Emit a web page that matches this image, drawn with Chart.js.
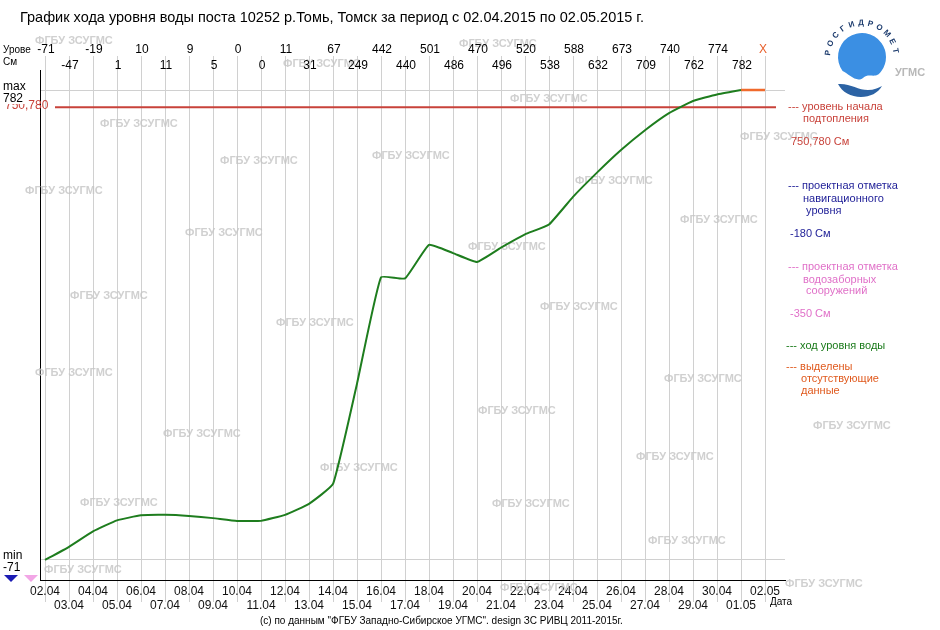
<!DOCTYPE html>
<html lang="ru">
<head>
<meta charset="utf-8">
<title>График хода уровня воды</title>
<script src="https://cdn.jsdelivr.net/npm/chart.js@4.4.1/dist/chart.umd.min.js"></script>
<style>
  html, body { margin: 0; padding: 0; background: #fff; }
  #wrap { width: 940px; height: 630px; }
</style>
</head>
<body>
<div id="wrap"><canvas id="levelChart" width="940" height="630"></canvas></div>
<script>
const titleText = 'График хода уровня воды поста 10252 р.Томь, Томск за период с 02.04.2015 по 02.05.2015 г.';

const dates = [
  '02.04', '03.04', '04.04', '05.04', '06.04', '07.04', '08.04', '09.04', '10.04', '11.04',
  '12.04', '13.04', '14.04', '15.04', '16.04', '17.04', '18.04', '19.04', '20.04', '21.04',
  '22.04', '23.04', '24.04', '25.04', '26.04', '27.04', '28.04', '29.04', '30.04', '01.05', '02.05',
];

// water level, cm (02.05 is missing -> shown as X)
const levels = [
  -71, -47, -19, 1, 10, 11, 9, 5, 0, 0,
  11, 31, 67, 249, 442, 440, 501, 486, 470, 496,
  520, 538, 588, 632, 673, 709, 740, 762, 774, 782,
];
const missingMark = 'X';

const minLevel = -71;
const maxLevel = 782;
const floodLevel = 750.78;
const navLevel = -180;
const intakeLevel = -350;

const watermarks = [
  [35, 41], [459, 44], [283, 64], [510, 99], [100, 124], [740, 137], [220, 161],
  [372, 156], [25, 191], [575, 181], [680, 220], [185, 233], [468, 247], [70, 296],
  [540, 307], [276, 323], [35, 373], [664, 379], [478, 411], [163, 434], [813, 426],
  [636, 457], [320, 468], [80, 503], [492, 504], [648, 541], [44, 570], [785, 584],
  [500, 588],
];

const levelPoints = levels.map((v, i) => ({ x: i, y: v }));
const lastIdx = levels.length - 1;
const missingPoints = [
  { x: lastIdx, y: levels[lastIdx] },
  { x: dates.length - 1, y: levels[lastIdx] },
];

const FONT = '"Liberation Sans", Arial, sans-serif';
Chart.defaults.font.family = FONT;

function drawLogo(ctx) {
  const cx = 862, cy = 57;
  ctx.save();
  // dome
  ctx.fillStyle = '#3b8fe3';
  ctx.beginPath();
  ctx.arc(cx, cy, 24, Math.PI * 0.8, Math.PI * 2.2);
  ctx.bezierCurveTo(876, 80, 869, 72, 863, 78);
  ctx.bezierCurveTo(856, 83, 849, 74, cx - 24 * Math.cos(Math.PI * 0.2), cy + 24 * Math.sin(Math.PI * 0.2));
  ctx.fill();
  // wave
  ctx.fillStyle = '#2c63a4';
  ctx.beginPath();
  ctx.moveTo(838, 84);
  ctx.bezierCurveTo(850, 83, 858, 90, 868, 90);
  ctx.bezierCurveTo(874, 90, 878, 88, 882, 86);
  ctx.bezierCurveTo(878, 93, 870, 97, 861, 97);
  ctx.bezierCurveTo(851, 97, 842, 92, 838, 84);
  ctx.fill();
  // arched name
  const word = 'РОСГИДРОМЕТ';
  ctx.fillStyle = '#1d3c6e';
  ctx.font = 'bold 8px ' + FONT;
  ctx.textAlign = 'center';
  ctx.textBaseline = 'middle';
  const r = 34;
  const a0 = -Math.PI * 0.96, a1 = -Math.PI * 0.06;
  for (let k = 0; k < word.length; k++) {
    const a = a0 + (a1 - a0) * k / (word.length - 1);
    ctx.save();
    ctx.translate(cx + r * Math.cos(a), cy + r * Math.sin(a));
    ctx.rotate(a + Math.PI / 2);
    ctx.fillText(word[k], 0, 0);
    ctx.restore();
  }
  ctx.fillStyle = '#b8b8b8';
  ctx.font = 'bold 11px ' + FONT;
  ctx.textAlign = 'left';
  ctx.fillText('УГМС', 895, 73);
  ctx.restore();
}

const extras = {
  id: 'extras',
  beforeDatasetsDraw(chart) {
    const { ctx, chartArea } = chart;
    const xs = chart.scales.x;
    const ys = chart.scales.y;
    ctx.save();

    // grid lines continue up into the value rows
    ctx.strokeStyle = '#d0d0d0';
    ctx.lineWidth = 1;
    dates.forEach((d, i) => {
      const px = Math.round(xs.getPixelForValue(i)) + 0.5;
      ctx.beginPath();
      ctx.moveTo(px, 56);
      ctx.lineTo(px, chartArea.top);
      ctx.stroke();
    });

    // watermarks
    ctx.fillStyle = 'rgba(196,196,196,0.8)';
    ctx.font = 'bold 11px ' + FONT;
    ctx.textBaseline = 'middle';
    watermarks.forEach(([x, y]) => ctx.fillText('ФГБУ ЗСУГМС', x, y));

    // flood level line
    const fy = ys.getPixelForValue(floodLevel);
    ctx.strokeStyle = '#c8423a';
    ctx.lineWidth = 2;
    ctx.beginPath();
    ctx.moveTo(chartArea.left + 15, fy);
    ctx.lineTo(chartArea.right - 9, fy);
    ctx.stroke();
    ctx.restore();
  },
  afterDraw(chart) {
    const { ctx } = chart;
    const xs = chart.scales.x;
    const ys = chart.scales.y;
    ctx.save();
    ctx.textBaseline = 'middle';

    // title
    ctx.fillStyle = '#000';
    ctx.font = '14.5px ' + FONT;
    ctx.textAlign = 'left';
    ctx.fillText(titleText, 20, 18);

    // level values above plot, two staggered rows
    ctx.font = '12px ' + FONT;
    ctx.textAlign = 'center';
    dates.forEach((d, i) => {
      const px = xs.getPixelForValue(i);
      const rowY = i % 2 === 0 ? 50 : 66;
      if (i < levels.length) {
        ctx.fillStyle = '#000';
        ctx.fillText(String(levels[i]), px + 1, rowY);
      } else {
        ctx.fillStyle = '#e8602c';
        ctx.fillText(missingMark, px - 2, rowY);
      }
    });

    ctx.textAlign = 'left';
    ctx.fillStyle = '#000';
    ctx.font = '10px ' + FONT;
    ctx.fillText('Урове', 3, 50);
    ctx.fillText('См', 3, 62);

    // left labels: max / min and flood value
    const yMax = ys.getPixelForValue(maxLevel);
    const yMin = ys.getPixelForValue(minLevel);
    const floodText = floodLevel.toFixed(3).replace('.', ',');
    ctx.font = '12px ' + FONT;
    ctx.fillStyle = '#c8423a';
    ctx.fillText(floodText, 5, ys.getPixelForValue(floodLevel) - 2);
    ctx.fillStyle = '#fff';
    ctx.fillRect(2, yMax + 4, 24, 10);
    ctx.fillStyle = '#000';
    ctx.fillText('max', 3, yMax - 3);
    ctx.fillText(String(maxLevel), 3, yMax + 9);
    ctx.fillText('min', 3, yMin - 4);
    ctx.fillText(String(minLevel), 3, yMin + 8);

    // markers for levels below the plotted range
    ctx.fillStyle = '#1c1cb4';
    ctx.beginPath();
    ctx.moveTo(4, 575); ctx.lineTo(18, 575); ctx.lineTo(11, 582); ctx.closePath();
    ctx.fill();
    ctx.fillStyle = '#f2a6e6';
    ctx.beginPath();
    ctx.moveTo(24, 575); ctx.lineTo(38, 575); ctx.lineTo(31, 582); ctx.closePath();
    ctx.fill();

    ctx.font = '10px ' + FONT;
    ctx.fillStyle = '#000';
    ctx.fillText('Дата', 770, 602);
    ctx.fillText('(c) по данным "ФГБУ Западно-Сибирское УГМС". design ЗС РИВЦ 2011-2015г.', 260, 621);

    // right-hand legend
    ctx.font = '11px ' + FONT;
    const legend = [
      ['#c8423a', '--- уровень начала', 788, 107],
      ['#c8423a', 'подтопления', 803, 119],
      ['#c8423a', floodText + ' См', 791, 142],
      ['#1c1c96', '--- проектная отметка', 788, 186],
      ['#1c1c96', 'навигационного', 803, 199],
      ['#1c1c96', 'уровня', 806, 211],
      ['#1c1c96', navLevel + ' См', 790, 234],
      ['#e070c8', '--- проектная отметка', 788, 267],
      ['#e070c8', 'водозаборных', 803, 280],
      ['#e070c8', 'сооружений', 806, 291],
      ['#e070c8', intakeLevel + ' См', 790, 314],
      ['#1a7a1a', '--- ход уровня воды', 786, 346],
      ['#e05a1e', '--- выделены', 786, 367],
      ['#e05a1e', 'отсутствующие', 801, 379],
      ['#e05a1e', 'данные', 801, 391],
    ];
    legend.forEach(([c, t, x, y]) => {
      ctx.fillStyle = c;
      ctx.fillText(t, x, y);
    });

    drawLogo(ctx);
    ctx.restore();
  },
};

const chartContext = document.getElementById('levelChart').getContext('2d');
const levelChart = new Chart(chartContext, {
  type: 'line',
  data: {
    datasets: [
      {
        label: 'ход уровня воды',
        data: levelPoints,
        borderColor: '#1e7d1e',
        borderWidth: 2,
        tension: 0.12,
        pointRadius: 0,
        fill: false,
      },
      {
        label: 'выделены отсутствующие данные',
        data: missingPoints,
        borderColor: '#f06a2c',
        borderWidth: 2.5,
        tension: 0,
        pointRadius: 0,
        fill: false,
      },
    ],
  },
  options: {
    responsive: false,
    animation: false,
    layout: {
      padding: { left: 0, right: 155, top: 70, bottom: 10 },
    },
    plugins: {
      legend: { display: false },
      tooltip: { enabled: false },
      title: { display: false },
    },
    scales: {
      x: {
        type: 'linear',
        position: 'bottom',
        min: -5 / 24,
        max: 30 + 20 / 24,
        afterBuildTicks: scale => {
          scale.ticks = dates.map((d, i) => ({ value: i }));
        },
        afterFit: scale => {
          scale.height = 40;
        },
        ticks: {
          autoSkip: false,
          maxRotation: 0,
          padding: -18,
          color: '#111',
          font: { size: 12 },
          callback: value => (value % 2 === 0 ? dates[value] : ['', dates[value]]),
        },
        grid: {
          color: '#d0d0d0',
          tickLength: 22,
        },
        border: { color: '#000', width: 1 },
      },
      y: {
        type: 'linear',
        min: -107.3,
        max: 818.3,
        afterBuildTicks: scale => {
          scale.ticks = [{ value: minLevel }, { value: maxLevel }];
        },
        afterFit: scale => {
          scale.width = 40;
        },
        ticks: { display: false },
        grid: {
          color: '#d0d0d0',
          drawTicks: false,
        },
        border: { color: '#000', width: 1 },
      },
    },
  },
  plugins: [extras],
});
</script>
</body>
</html>
